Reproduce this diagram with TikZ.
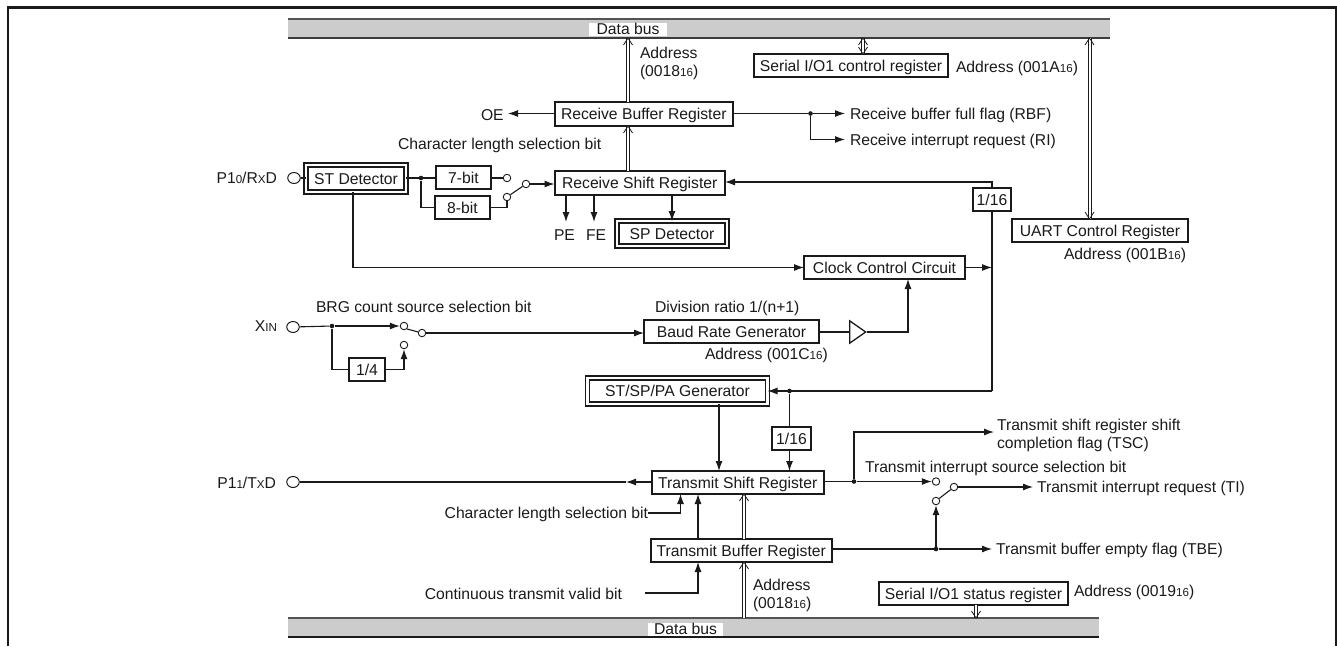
\documentclass[tikz,border=0pt]{standalone}
\usepackage{fontspec}
\setmainfont{Liberation Sans}
\usetikzlibrary{arrows.meta,shapes.geometric}
\definecolor{busgray}{HTML}{CCCCCC}
\definecolor{ink}{HTML}{1A1A1A}
\newcommand\sm[1]{{\fontsize{11.6pt}{12pt}\selectfont #1}}
\tikzset{
  x=1pt,y=-1pt,
  every node/.style={font=\fontsize{15.7pt}{18.5pt}\selectfont,text=ink},
  txt/.style={inner sep=0pt,outer sep=0pt,text height=11.2pt,text depth=0pt},
  ltxt/.style={txt,anchor=west},
  rtxt/.style={txt,anchor=east},
  mtxt/.style={inner sep=0pt,outer sep=0pt,anchor=north west,align=left},
  boxn/.style={draw=ink,line width=2pt,fill=white,inner sep=0pt,outer sep=0pt,text height=11.2pt,text depth=0pt},
  dboxn/.style={draw=ink,line width=1.6pt,double=white,double distance=2.2pt,fill=white,inner sep=0pt,outer sep=0pt,text height=11.2pt,text depth=0pt},
  wire/.style={draw=ink,line width=1.1pt},
  arr/.style={wire,-{Latex[length=10pt,width=7pt]}},
  dbl/.style={draw=ink,line width=1pt,double=white,double distance=2pt},
  vee/.style={draw=ink,line width=0.8pt},
  term/.style={draw=ink,line width=1pt,fill=white,ellipse,inner sep=0pt,minimum width=12.5pt,minimum height=11pt},
  sw/.style={draw=ink,line width=0.9pt,fill=white,circle,inner sep=0pt,minimum size=7.5pt},
  dot/.style={fill=ink,circle,inner sep=0pt,minimum size=4.6pt},
  bar/.style={fill=busgray,inner sep=0pt,outer sep=0pt,anchor=north west},
  lab/.style={fill=white,inner sep=0pt,outer sep=0pt,anchor=center,text height=11.2pt,text depth=0pt}
}
\newcommand\bxn[6]{\node[boxn,minimum width={(#4-#2)*1pt},minimum height={(#5-#3)*1pt}] (#1) at ({(#2+#4)/2},{(#3+#5)/2}) {#6};}
\newcommand\dbxn[6]{\node[dboxn,minimum width={(#4-#2)*1pt},minimum height={(#5-#3)*1pt}] (#1) at ({(#2+#4)/2},{(#3+#5)/2}) {#6};}
\newcommand\veeup[1]{\draw[vee] (#1) ++(-4.5,7) -- ++(4.5,-7) -- ++(4.5,7);}
\newcommand\veedown[1]{\draw[vee] (#1) ++(-4.5,-7) -- ++(4.5,7) -- ++(4.5,-7);}
\begin{document}
\begin{tikzpicture}
\useasboundingbox (0,0) rectangle (1337,646);
% frame
\draw[ink,line width=2.4pt] (8,646) -- (8,7.5) -- (1336,7.5) -- (1336,646);
% buses
\node[bar,minimum width=822pt,minimum height=19pt] (bus1) at (288,19) {};
\draw[ink!75,line width=1.3pt] (bus1.north west) -- (bus1.north east);
\draw[ink!85,line width=1.1pt] (bus1.south west) -- (bus1.south east);
\node[lab,minimum width=78pt,minimum height=13pt] (bus1lab) at (628,29) {Data bus\hspace{12pt}};
\node[bar,minimum width=811pt,minimum height=19pt] (bus2) at (288,618) {};
\draw[ink!75,line width=1.3pt] (bus2.north west) -- (bus2.north east);
\draw[ink,line width=1.1pt] (bus2.south west) -- (bus2.south east);
\node[lab,minimum width=75pt,minimum height=13pt] (bus2lab) at (685.5,629) {Data bus\hspace{9pt}};
% vertical guide coordinates
\coordinate (xbuf) at (628,0);
\coordinate (xctl) at (863,0);
\coordinate (xuart) at (1089.5,0);
\coordinate (xtbuf) at (744,0);
\coordinate (xsts) at (976,0);
\coordinate (xclk) at (992,0);
\coordinate (xpe) at (566,0);
\coordinate (xfe) at (594,0);
\coordinate (xsp) at (672,0);
\coordinate (xst) at (353,0);
\coordinate (xtg) at (908,0);
\coordinate (xgen) at (719,0);
\coordinate (xclen) at (680.5,0);
\coordinate (xbt) at (698,0);
% boxes
\bxn{rbuf}{554.5}{102}{733}{126}{Receive Buffer Register}
\bxn{rshift}{554.5}{171}{725}{195}{Receive Shift Register}
\dbxn{stdet}{306}{165}{406}{192}{ST Detector}
\bxn{bit7}{436}{166}{491}{189}{7-bit}
\bxn{bit8}{435}{196}{490}{219}{8-bit}
\dbxn{spdet}{617}{221}{727}{246}{SP Detector}
\bxn{sctl}{754}{54}{948}{77}{Serial I/O1 control register}
\bxn{uart}{1012}{219}{1188}{242}{UART Control Register}
\bxn{d16a}{973}{188}{1011}{211}{1/16}
\bxn{clk}{804}{256}{965}{279}{Clock Control Circuit}
\bxn{brg}{644}{320}{819}{343}{Baud Rate Generator}
\bxn{d4}{349}{358}{385}{381}{1/4}
\dbxn{gen}{587.5}{378}{767.5}{404}{ST/SP/PA Generator}
\bxn{d16b}{772}{427}{811}{450}{1/16}
\bxn{tshift}{651.5}{471}{824}{494}{Transmit Shift Register}
\bxn{tbuf}{650.5}{539}{832}{562}{Transmit Buffer Register}
\bxn{ssts}{879}{582}{1068}{605}{Serial I/O1 status register}
% amplifier
\node[draw=ink,line width=1.3pt,fill=white,isosceles triangle,isosceles triangle apex angle=70,inner sep=0pt,minimum height=16pt,minimum width=22pt,anchor=west] (amp) at (849,332) {};
% terminals, switches
\node[term] (prx) at (294,178) {};
\node[term] (pxin) at (293,327) {};
\node[term] (ptx) at (293,482) {};
\node[sw] (s1a) at (507,178) {};
\node[sw] (s1b) at (507,197) {};
\node[sw] (s1m) at (526,184) {};
\node[sw] (s2a) at (404,326) {};
\node[sw] (s2b) at (404,345) {};
\node[sw] (s2m) at (422,333) {};
\node[sw] (s3a) at (936,481.5) {};
\node[sw] (s3b) at (936,501) {};
\node[sw] (s3m) at (954,487) {};
% junctions
\node[dot] (dst) at (421,178) {};
\node[dot] (drbf) at (810.5,113.5) {};
\node[dot] (dxin) at (332,326) {};
\node[dot] (dgen) at (789.5,391) {};
\node[dot] (dtsr) at (854,481.5) {};
\node[dot] (dtbe) at (936,549) {};
\coordinate (cclen) at (648,513);
\coordinate (ccont) at (645,593);
% labels
\node[rtxt] (lrx) at (277,178) {P1\sm{0}/R\sm{X}D};
\node[rtxt] (lxin) at (277,326) {X\sm{IN}};
\node[rtxt] (ltx) at (276,483) {P1\sm{1}/T\sm{X}D};
\node[mtxt] (laddr1) at (640,47) {Address\\(0018\sm{16})};
\node[ltxt] (loe) at (481,115) {OE};
\coordinate (coe) at (508,113.5);
\node[ltxt] (lclen1) at (398,144) {Character length selection bit};
\node[ltxt] (lpe) at (554,235) {PE};
\node[ltxt] (lfe) at (586,235) {FE};
\node[ltxt] (laddrA) at (956,67) {Address (001A\sm{16})};
\node[ltxt] (lrbf) at (850,114) {Receive buffer full flag (RBF)};
\node[ltxt] (lri) at (850,140) {Receive interrupt request (RI)};
\node[ltxt] (laddrB) at (1064,254) {Address (001B\sm{16})};
\node[ltxt] (lbrg) at (316,307) {BRG count source selection bit};
\node[ltxt] (ldiv) at (655,307) {Division ratio 1/(n+1)};
\node[ltxt] (laddrC) at (705,354) {Address (001C\sm{16})};
\node[mtxt] (ltsc) at (997,419) {Transmit shift register shift\\completion flag (TSC)};
\node[ltxt] (ltis) at (865,467) {Transmit interrupt source selection bit};
\node[ltxt] (lti) at (1037,487) {Transmit interrupt request (TI)};
\node[ltxt] (ltbe) at (996,549) {Transmit buffer empty flag (TBE)};
\node[rtxt] (lclen2) at (648,513) {Character length selection bit};
\node[rtxt] (lcont) at (622,594) {Continuous transmit valid bit};
\node[mtxt] (laddr2) at (753,579) {Address\\(0018\sm{16})};
\node[ltxt] (laddr9) at (1074,591) {Address (0019\sm{16})};
% free-end targets
\coordinate (crbf) at (845,113.5);
\coordinate (cri) at (845,139.5);
\coordinate (ctsc) at (994,432);
\coordinate (cti) at (1033,487);
\coordinate (ctbe) at (992,549);
\coordinate (ctx) at (626,482);
\coordinate (cgen) at (992,391);
% double buses
\draw[dbl] (rbuf.north -| xbuf) -- (bus1.south -| xbuf);
\veeup{bus1.south -| xbuf}
\draw[dbl] (rshift.north -| xbuf) -- (rbuf.south -| xbuf);
\veeup{rbuf.south -| xbuf}
\draw[dbl] (sctl.north -| xctl) -- (bus1.south -| xctl);
\veeup{bus1.south -| xctl}
\veedown{sctl.north -| xctl}
\draw[dbl] (uart.north -| xuart) -- (bus1.south -| xuart);
\veeup{bus1.south -| xuart}
\veedown{uart.north -| xuart}
\draw[dbl] (tbuf.north -| xtbuf) -- (tshift.south -| xtbuf);
\veeup{tshift.south -| xtbuf}
\draw[dbl] (bus2.north -| xtbuf) -- (tbuf.south -| xtbuf);
\veeup{tbuf.south -| xtbuf}
\draw[dbl] (ssts.south -| xsts) -- (bus2.north -| xsts);
\veedown{bus2.north -| xsts}
% wires: receive
\draw[wire] (prx) -- (stdet.west |- prx);
\draw[wire] (stdet.east |- dst) -- (bit7.west |- dst);
\draw[wire] (dst) |- (bit8.west);
\draw[wire] (bit7.east |- s1a) -- (s1a);
\draw[wire] (bit8.east) -| (s1b);
\draw[wire] (s1m) -- (s1b);
\draw[arr] (s1m) -- (rshift.west |- s1m);
\draw[arr] (rbuf.west |- coe) -- (coe);
\draw[wire] (rbuf.east |- drbf) -- (drbf);
\draw[arr] (drbf) -- (crbf);
\draw[arr] (drbf) |- (cri);
\draw[arr] (rshift.south -| xpe) -- ++(0,27);
\draw[arr] (rshift.south -| xfe) -- ++(0,27);
\draw[arr] (rshift.south -| xsp) -- (spdet.north -| xsp);
\draw[arr] (d16a.north) |- (rshift.east |- 0,182);
\draw[wire] (d16a.south) -- (cgen);
\draw[arr] (clk.east) -- (clk.east -| xclk);
\draw[arr] (stdet.south -| xst) |- (clk.west);
% wires: baud
\draw[wire] (pxin) -- (dxin);
\draw[arr] (dxin) -- (s2a);
\draw[wire] (dxin) |- (d4.west);
\draw[arr] (d4.east) -| (s2b);
\draw[wire] (s2m) -- (s2a.south east);
\draw[arr] (s2m) -- (brg.west |- s2m);
\draw[wire] (brg.east |- amp.west) -- (amp.west);
\draw[arr] (amp.apex) -| (clk.south -| xtg);
% wires: transmit
\draw[arr] (cgen) -- (gen.east |- cgen);
\draw[wire] (dgen) -- (d16b.north -| dgen);
\draw[arr] (d16b.south -| dgen) -- (tshift.north -| dgen);
\draw[arr] (gen.south -| xgen) -- (tshift.north -| xgen);
\draw[arr] (tshift.west |- ptx) -- (ctx);
\draw[wire] (ctx) -- (ptx);
\draw[arr] (cclen) -| (tshift.south -| xclen);
\draw[arr] (tbuf.north -| xbt) -- (tshift.south -| xbt);
\draw[arr] (ccont) -| (tbuf.south -| xbt);
\draw[wire] (tshift.east |- dtsr) -- (dtsr);
\draw[arr] (dtsr) |- (ctsc);
\draw[arr] (dtsr) -- (s3a);
\draw[wire] (s3m) -- (s3b);
\draw[arr] (s3m) -- (cti);
\draw[wire] (tbuf.east |- dtbe) -- (dtbe);
\draw[arr] (dtbe) -- (ctbe);
\draw[arr] (dtbe) -- (s3b);
\end{tikzpicture}
\end{document}
